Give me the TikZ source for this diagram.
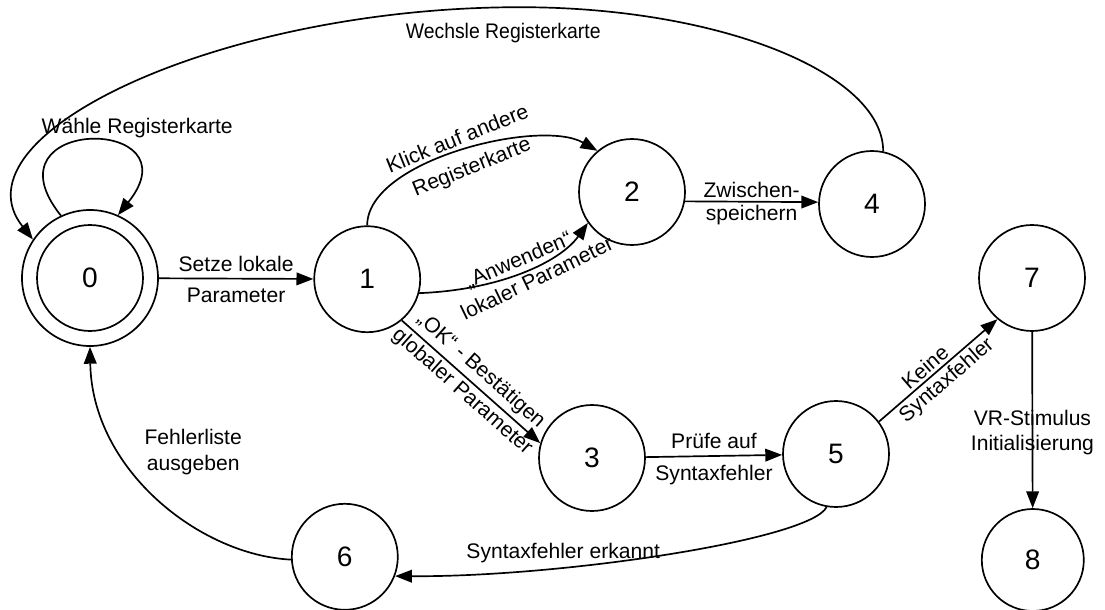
\documentclass[tikz,border=0pt]{standalone}
\usepackage{fontspec}
\setmainfont{Liberation Sans}
\usepackage{tikz}
\usetikzlibrary{arrows.meta}
\newcommand{\lblsize}{\fontsize{15}{18}\selectfont}
\newcommand{\numsize}{\fontsize{20}{24}\selectfont}

\begin{document}
\begin{tikzpicture}[every node/.style={font=\lblsize},
   state/.style={draw,circle,minimum size=2.65cm,inner sep=0pt,line width=1.2pt,font=\numsize},
   trans/.style={line width=1.2pt,-{Triangle[length=12pt,width=9pt]}},
   lbl/.style={align=center,inner sep=2pt},
   over/.style={lbl,above,inner sep=4.5pt},
   under/.style={lbl,below,inner sep=6pt}]
\useasboundingbox (0,0) rectangle (27.625,-15.25);
% states
\node[state,minimum size=3.4cm] (n0) at (2.25,-6.95) {};
\node[state] (n0in) at (n0) {0};
\node[state] (n1) at (9.18,-6.98) {1};
\node[state] (n2) at (15.8,-4.8) {2};
\node[state] (n4) at (21.8,-5.1) {4};
\node[state] (n3) at (14.8,-11.45) {3};
\node[state] (n5) at (20.9,-11.35) {5};
\node[state] (n7) at (25.8,-6.95) {7};
\node[state,minimum size=2.55cm] (n8) at (25.82,-14.0) {8};
\node[state] (n6) at (8.62,-13.92) {6};
% transitions
\draw[trans] (n0.115) .. controls +(-2,2.5) and +(2,2.5) .. (n0.66);
\node[lbl] (l00) at (3.43,-3.2) {Wähle Registerkarte};
\draw[trans] (n4.78) .. controls (22.08,-1.83) and (18.0,-0.18) .. (13.0,-0.18)
   .. controls (5.5,-0.18) and (-1.25,-3.38) .. (n0.146);
\node[lbl,xscale=0.92] (l40) at (12.58,-0.83) {Wechsle Registerkarte};
\draw[trans] (n0) -- (n1) node[over,midway] {Setze lokale} node[under,midway] {Parameter};
\draw[trans] (n1.90) .. controls (9.18,-4.0) and (13.5,-2.95) .. (n2.130);
\node[lbl,rotate=22] (l12a) at (11.43,-3.45) {Klick auf andere};
\node[lbl,rotate=22] (l12b) at (11.8,-4.2) {Registerkarte};
\draw[trans] (n1.-15) .. controls (12.5,-7.25) and (14.0,-6.55) .. (n2.215)
   node[over,pos=0.5,sloped,inner sep=1.5pt] {„Anwenden“} node[under,pos=0.55,sloped,inner sep=2pt] {lokaler Parameter};
\draw[trans] (n2.-10) -- (n4.178) node[over,midway,inner sep=2pt] {Zwischen-} node[under,midway,inner sep=2pt] {speichern};
\draw[trans] (n1.-50) -- (n3.164) node[over,midway,sloped,inner sep=3pt] {„OK“ - Bestätigen} node[under,midway,sloped,inner sep=2pt] {globaler Parameter};
\draw[trans] (n3) -- (n5) node[over,midway] {Prüfe auf} node[under,midway] {Syntaxfehler};
\draw[trans] (n5.37) -- (n7.230) node[over,pos=0.45,sloped,inner sep=2pt] {Keine} node[under,midway,sloped,inner sep=2pt] {Syntaxfehler};
\draw[trans] (n7) -- (n8) node[lbl,pos=0.57] {VR-Stimulus\\Initialisierung};
\draw[trans] (n5.260) .. controls (20.25,-13.5) and (14.0,-14.43) .. (n6.-21);
\node[lbl] (l56) at (14.08,-13.83) {Syntaxfehler erkannt};
\draw[trans] (n6.183) .. controls (5.0,-13.88) and (2.3,-11.75) .. (n0.270);
\node[lbl] (l60) at (4.83,-11.3) {Fehlerliste\\ausgeben};
\end{tikzpicture}
\end{document}
